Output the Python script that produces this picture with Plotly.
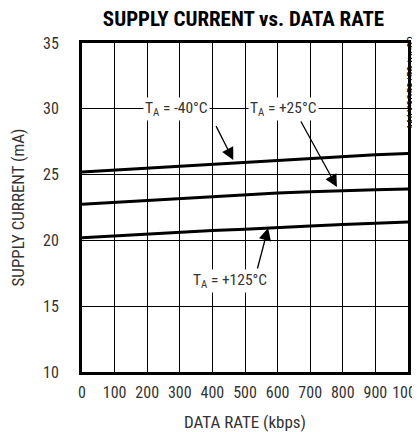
import plotly.graph_objects as go

data_rate = [0, 100, 200, 300, 400, 500, 600, 700, 800, 900, 1000]
i_m40 = [25.2, 25.35, 25.5, 25.65, 25.8, 25.95, 26.1, 26.25, 26.4, 26.5, 26.6]
i_p25 = [22.75, 22.9, 23.05, 23.2, 23.35, 23.5, 23.6, 23.7, 23.8, 23.85, 23.9]
i_p125 = [20.2, 20.35, 20.5, 20.6, 20.75, 20.85, 21.0, 21.1, 21.2, 21.3, 21.4]

x_ticks = [0, 100, 200, 300, 400, 500, 600, 700, 800, 900, 1000]
y_ticks = [10, 15, 20, 25, 30, 35]

FONT = "Liberation Sans Narrow, Roboto Condensed, Arial Narrow, Liberation Sans, sans-serif"

fig = go.Figure()
for ys in (i_m40, i_p25, i_p125):
    fig.add_trace(go.Scatter(x=data_rate, y=ys, mode="lines",
                             line=dict(color="black", width=3), showlegend=False))

labels = [
    ("T<sub>A</sub> = -40°C", 290, 30.0),
    ("T<sub>A</sub> = +25°C", 617, 30.0),
    ("T<sub>A</sub> = +125°C", 455, 16.9),
]
for txt, x, y in labels:
    fig.add_annotation(x=x, y=y, xref="x", yref="y", text=txt, showarrow=False,
                       bgcolor="white", font=dict(family=FONT, size=15.5, color="#333"),
                       borderpad=1)

arrows = [
    (464, 26.1, 409, 28.8),
    (782, 24.05, 669, 29.15),
    (571, 20.95, 537, 17.75),
]
for x, y, ax, ay in arrows:
    fig.add_annotation(x=x, y=y, ax=ax, ay=ay, xref="x", yref="y", axref="x", ayref="y",
                       text="", showarrow=True, arrowhead=2, arrowsize=1.9,
                       arrowwidth=1.3, arrowcolor="black", standoff=0)

fig.add_annotation(x=1.013, y=0.881, xref="paper", yref="paper", text="MAX3058/59 toc02",
                   showarrow=False, textangle=-90, xanchor="center", yanchor="middle",
                   font=dict(family=FONT, size=12, color="#111"))

fig.update_layout(
    width=412, height=424,
    margin=dict(l=73.5, r=12, t=35, b=60),
    paper_bgcolor="white", plot_bgcolor="white",
    title=dict(text="<b>SUPPLY CURRENT vs. DATA RATE</b>", x=0.5716, xanchor="center",
               y=0.975, yanchor="middle", font=dict(family=FONT, size=21, color="black")),
    font=dict(family=FONT, size=16, color="#333"),
    xaxis=dict(range=[0, 1000], tickvals=x_ticks, showgrid=True, gridcolor="black",
               gridwidth=1, showline=True, linecolor="black", linewidth=3, mirror=True,
               zeroline=False, ticks="", ticklabelstandoff=4, automargin=False,
               ticklabeloverflow="allow",
               title=dict(text="DATA RATE (kbps)", standoff=15, font=dict(size=17))),
    yaxis=dict(range=[10, 35], tickvals=y_ticks, showgrid=True, gridcolor="black",
               gridwidth=1, showline=True, linecolor="black", linewidth=3, mirror=True,
               zeroline=False, ticks="", ticklabelstandoff=17, automargin=False,
               title=dict(text="SUPPLY CURRENT (mA)", standoff=27, font=dict(size=17))),
)

fig.write_html("out.html")
